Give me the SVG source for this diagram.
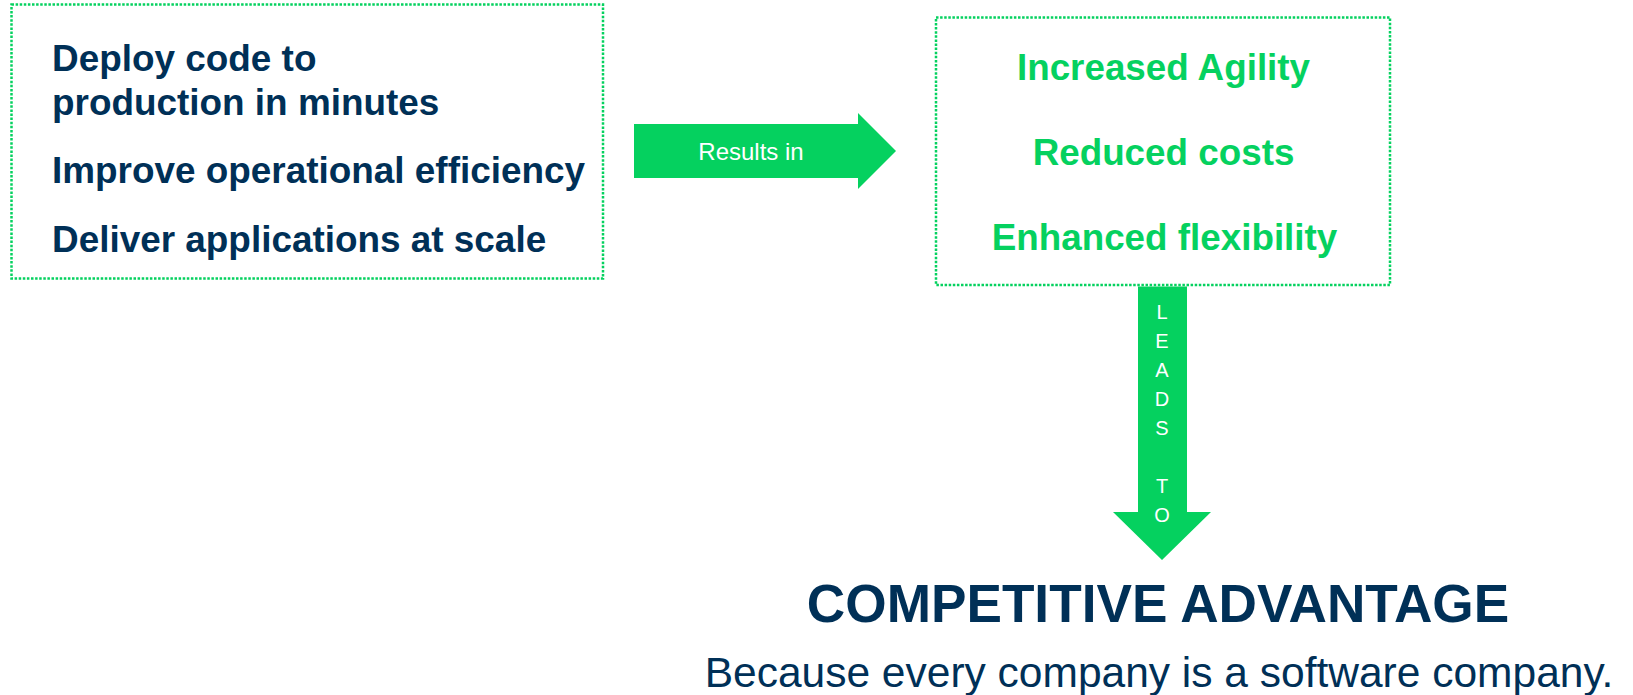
<svg xmlns="http://www.w3.org/2000/svg" width="1633" height="695" viewBox="0 0 1633 695">
<style>
.box{fill:#fff;stroke:#05D15F;stroke-width:2.5;stroke-dasharray:2.5 1.6}
.arrow{fill:#05D15F}
.navy{fill:#003057;font-family:"Liberation Sans",Arial,sans-serif;font-weight:bold;font-size:36.9px}
.green{fill:#05D15F;font-family:"Liberation Sans",Arial,sans-serif;font-weight:bold;font-size:36.8px;text-anchor:middle}
.lbl{fill:#fff;font-family:"Liberation Sans",Arial,sans-serif;font-size:20px;text-anchor:middle}
</style>
<rect width="1633" height="695" fill="#fff"/>
<g id="node-actions">
<rect class="box" x="11.5" y="4.5" width="591.5" height="274"/>
<text class="navy" x="52" y="70.5">Deploy code to</text>
<text class="navy" x="52" y="114.5">production in minutes</text>
<text class="navy" x="52" y="183">Improve operational efficiency</text>
<text class="navy" x="52" y="252">Deliver applications at scale</text>
</g>
<g id="node-benefits">
<rect class="box" x="936" y="17.5" width="454" height="267.5"/>
<text class="green" x="1163.5" y="80">Increased Agility</text>
<text class="green" x="1163.5" y="165">Reduced costs</text>
<text class="green" x="1164.5" y="250">Enhanced flexibility</text>
</g>
<g id="connectors">
<g id="edge-results-in">
<polygon class="arrow" points="634,124 858,124 858,113 896,151 858,189 858,178 634,178"/>
<text class="lbl" x="751" y="160" style="font-size:24px">Results in</text>
</g>
<g id="edge-leads-to">
<polygon class="arrow" points="1138,286.5 1187,286.5 1187,512 1211,512 1162,560 1113,512 1138,512"/>
<text class="lbl" x="1162" y="319">L</text>
<text class="lbl" x="1162" y="348">E</text>
<text class="lbl" x="1162" y="377">A</text>
<text class="lbl" x="1162" y="406">D</text>
<text class="lbl" x="1162" y="435">S</text>
<text class="lbl" x="1162" y="493">T</text>
<text class="lbl" x="1162" y="522">O</text>
</g>
</g>
<g id="node-outcome">
<text x="1158" y="622" text-anchor="middle" style="fill:#003057;font-family:'Liberation Sans',Arial,sans-serif;font-weight:bold;font-size:53.2px">COMPETITIVE ADVANTAGE</text>
<text x="1159" y="687" text-anchor="middle" style="fill:#003057;font-family:'Liberation Sans',Arial,sans-serif;font-size:42.5px">Because every company is a software company.</text>
</g>
</svg>
